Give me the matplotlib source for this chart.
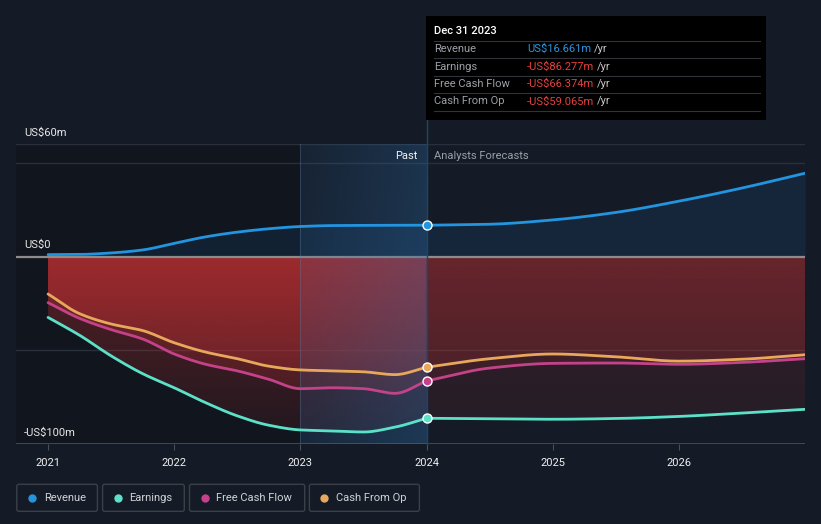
import numpy as np
import matplotlib
matplotlib.use("Agg")
import matplotlib.pyplot as plt
from matplotlib.patches import Polygon, FancyBboxPatch, Rectangle

plt.rcParams['font.family'] = ['Roboto', 'DejaVu Sans']

# ---------------- data (US$ m) ----------------
past_x = [2021.0, 2021.25, 2021.5, 2021.75, 2022.0, 2022.25, 2022.5, 2022.75,
          2023.0, 2023.25, 2023.5, 2023.75, 2024.0]
fc_x = [2024.0, 2024.5, 2025.0, 2025.5, 2026.0, 2026.5, 2027.0]

revenue_past = [1.0, 1.1, 1.9, 3.5, 7.0, 10.5, 13.0, 14.8, 16.0, 16.5, 16.6, 16.7, 16.661]
revenue_fc = [16.661, 17.2, 19.5, 23.5, 29.5, 36.5, 44.4]

earnings_past = [-32.5, -42.0, -53.0, -62.5, -70.0, -78.0, -85.0, -90.0,
                 -92.5, -93.0, -93.6, -91.0, -86.277]
earnings_fc = [-86.277, -86.5, -86.8, -86.4, -85.3, -83.5, -81.5]

fcf_past = [-24.6, -33.0, -39.0, -44.0, -52.0, -57.5, -61.0, -65.5,
            -70.5, -70.0, -70.5, -73.0, -66.374]
fcf_fc = [-66.374, -59.5, -57.0, -56.8, -57.5, -56.5, -54.5]

cfo_past = [-20.0, -30.5, -36.0, -39.5, -46.0, -51.0, -54.5, -58.5,
            -60.5, -61.0, -61.5, -63.0, -59.065]
cfo_fc = [-59.065, -54.5, -52.0, -53.5, -55.8, -54.8, -52.4]

year_ticks = [2021, 2022, 2023, 2024, 2025, 2026]
y_labels = {60: "US$60m", 0: "US$0", -100: "-US$100m"}

series_names = ["Revenue", "Earnings", "Free Cash Flow", "Cash From Op"]
colors = {"Revenue": "#2394e0", "Earnings": "#5ce1c9",
          "Free Cash Flow": "#c4428a", "Cash From Op": "#e8a85c"}
tooltip_date = "Dec 31 2023"
tooltip_vals = ["US$16.661m", "-US$86.277m", "-US$66.374m", "-US$59.065m"]

BG = "#151b26"
PAST_BG = "#11151d"


def pchip(x, y, xs):
    x = np.asarray(x, float); y = np.asarray(y, float)
    h = np.diff(x); d = np.diff(y) / h
    n = len(x); m = np.zeros(n)
    for k in range(1, n - 1):
        if d[k - 1] * d[k] > 0:
            w1 = 2 * h[k] + h[k - 1]; w2 = h[k] + 2 * h[k - 1]
            m[k] = (w1 + w2) / (w1 / d[k - 1] + w2 / d[k])
    m[0] = d[0]; m[-1] = d[-1]
    idx = np.clip(np.searchsorted(x, xs) - 1, 0, n - 2)
    t = (xs - x[idx]) / h[idx]
    h00 = 2 * t**3 - 3 * t**2 + 1; h10 = t**3 - 2 * t**2 + t
    h01 = -2 * t**3 + 3 * t**2; h11 = t**3 - t**2
    return h00 * y[idx] + h10 * h[idx] * m[idx] + h01 * y[idx + 1] + h11 * h[idx] * m[idx + 1]


def smooth(xp, yp, xf, yf):
    xs1 = np.linspace(xp[0], xp[-1], 300)
    xs2 = np.linspace(xf[0], xf[-1], 200)
    return (np.concatenate([xs1, xs2[1:]]),
            np.concatenate([pchip(xp, yp, xs1), pchip(xf, yf, xs2)[1:]]))


W, H = 821, 524
fig = plt.figure(figsize=(W / 100, H / 100), dpi=100, facecolor=BG)
L, R, T, B = 16, 805, 144, 444
ax = fig.add_axes([L / W, (H - B) / H, (R - L) / W, (B - T) / H])
ax.set_facecolor(BG)
XMIN, XMAX = 2020.746, 2027.0
YMIN, YMAX = -100, 60

# background regions
ax.axvspan(XMIN, 2023.0, color=PAST_BG, zorder=0, lw=0)
# highlight band 2023-2024
ny_b, nx_b = 100, 200
band = np.zeros((ny_b, nx_b, 4))
band[..., 0] = 45 / 255; band[..., 1] = 110 / 255; band[..., 2] = 170 / 255
hx = np.linspace(0.10, 0.30, nx_b)[None, :]
vy = np.linspace(0.0, 0.06, ny_b)[:, None]
band[..., 3] = hx + vy
ax.imshow(band, extent=[2023.0, 2024.0, YMIN, YMAX], aspect='auto', zorder=4,
          interpolation='bilinear', origin='upper')
ax.plot([2023.0, 2023.0], [YMIN, YMAX], color="#5a7a9a", lw=0.8, alpha=0.35, zorder=4.2)

# gridlines
for gy in [60, 50, -50]:
    ax.axhline(gy, color="#2a303b", lw=1, zorder=0.5)

# red gradient fills for negative series
ny, nx = 200, 400
gx = np.linspace(XMIN, XMAX, nx)
gy = np.linspace(0, YMIN, ny)
GX, GY = np.meshgrid(gx, gy)
depth = -GY
alpha = np.where(GX <= 2024.0, 0.38 * (1 - depth / 130), 0.19 * (1 - depth / 170))
alpha = np.clip(alpha, 0, 1)
rgba = np.zeros((ny, nx, 4))
rgba[..., 0] = 200 / 255; rgba[..., 1] = 50 / 255; rgba[..., 2] = 52 / 255
rgba[..., 3] = alpha

curves = {}
curves["Revenue"] = smooth(past_x, revenue_past, fc_x, revenue_fc)
curves["Earnings"] = smooth(past_x, earnings_past, fc_x, earnings_fc)
curves["Free Cash Flow"] = smooth(past_x, fcf_past, fc_x, fcf_fc)
curves["Cash From Op"] = smooth(past_x, cfo_past, fc_x, cfo_fc)

for name in ["Earnings", "Free Cash Flow", "Cash From Op"]:
    xs, ys = curves[name]
    verts = list(zip(xs, ys)) + [(xs[-1], 0), (xs[0], 0)]
    poly = Polygon(verts, closed=True, facecolor='none', edgecolor='none')
    ax.add_patch(poly)
    im = ax.imshow(rgba, extent=[XMIN, XMAX, YMIN, 0], origin='upper',
                   aspect='auto', zorder=1, interpolation='bilinear')
    im.set_clip_path(poly)

# revenue fill
xs, ys = curves["Revenue"]
ax.fill_between(xs, 0, ys, color="#1f70b5", alpha=0.14, lw=0, zorder=1)

# zero line and bottom axis
ax.axhline(0, color="#8c8c8c", lw=1.6, zorder=3)
ax.axhline(-100, color="#4a505a", lw=1.2, zorder=3)

# lines
for name in ["Revenue", "Earnings", "Free Cash Flow", "Cash From Op"]:
    xs, ys = curves[name]
    ax.plot(xs, ys, color=colors[name], lw=2.0, zorder=5, solid_capstyle='round')

# markers at 2024
marker_vals = {"Revenue": revenue_past[-1], "Earnings": earnings_past[-1],
               "Free Cash Flow": fcf_past[-1], "Cash From Op": cfo_past[-1]}
for name, v in marker_vals.items():
    ax.plot([2024.0], [v], 'o', ms=6.5, mfc=colors[name], mec='white', mew=1.0, zorder=7)

# vertical line at 2024 (extends above axes to tooltip)
ax.plot([2024.0, 2024.0], [YMIN, 73], color="#1d4566", lw=1.0, zorder=4.5, clip_on=False)

ax.set_xlim(XMIN, XMAX)
ax.set_ylim(YMIN, YMAX)
ax.set_xticks(year_ticks)
ax.set_xticklabels([str(y) for y in year_ticks], color="#f0f0f0", fontsize=8)
ax.tick_params(axis='x', length=4, color="#4a505a", pad=6)
ax.set_yticks([])
for s in ax.spines.values():
    s.set_visible(False)

# ---------------- overlay (pixel coords) ----------------
ov = fig.add_axes([0, 0, 1, 1], zorder=10)
ov.set_xlim(0, W); ov.set_ylim(H, 0); ov.axis('off')
ov.patch.set_alpha(0)

# y labels
for val, lab in y_labels.items():
    ypix = 257 - val * 1.875
    ov.text(24, ypix - 12, lab, color="#e8e8e8", fontsize=8, va='center', ha='left')

# Past / Analysts Forecasts
ov.text(418, 156, "Past", color="#f2f2f2", fontsize=8, ha='right', va='center')
ov.text(434, 156, "Analysts Forecasts", color="#9aa0a8", fontsize=8, ha='left', va='center')

# tooltip
ov.add_patch(Rectangle((426, 16), 340, 104, facecolor="#000000", edgecolor='none'))
ov.text(434, 31, tooltip_date, color="white", fontsize=8, ha='left', va='center', weight='medium')
row_y = [49, 66.5, 84, 101.5]
for ly in [40.5, 58, 75.5, 93, 110.5]:
    ov.plot([434, 760], [ly, ly], color="#303338", lw=0.8)
val_texts = []
for i, name in enumerate(series_names):
    ov.text(434, row_y[i], name, color="#9ca1a8", fontsize=8, ha='left', va='center')
    c = "#2e95e0" if i == 0 else "#e4413e"
    t = ov.text(527, row_y[i], tooltip_vals[i], color=c, fontsize=8, ha='left', va='center')
    val_texts.append(t)

fig.canvas.draw()
renderer = fig.canvas.get_renderer()
inv = ov.transData.inverted()
for i, t in enumerate(val_texts):
    bb = t.get_window_extent(renderer)
    xend = inv.transform((bb.x1, bb.y0))[0]
    ov.text(xend + 3, row_y[i], "/yr", color="#c8c8c8", fontsize=8, ha='left', va='center')

# legend
boxes = [(16.8, 97.4), (102.6, 184.3), (189.5, 304.7), (309.4, 419.4)]
for (x0, x1), name in zip(boxes, series_names):
    ov.add_patch(FancyBboxPatch((x0, 484.3), x1 - x0, 27, boxstyle="round,pad=0,rounding_size=2",
                                facecolor='none', edgecolor="#3a3f48", lw=1.0))
    ov.plot([x0 + 15], [497.8], 'o', ms=6, color=colors[name], mew=0)
    ov.text(x0 + 27, 497.8, name, color="#d0d3d8", fontsize=8, ha='left', va='center')

fig.savefig("out.png", dpi=100, facecolor=BG)
